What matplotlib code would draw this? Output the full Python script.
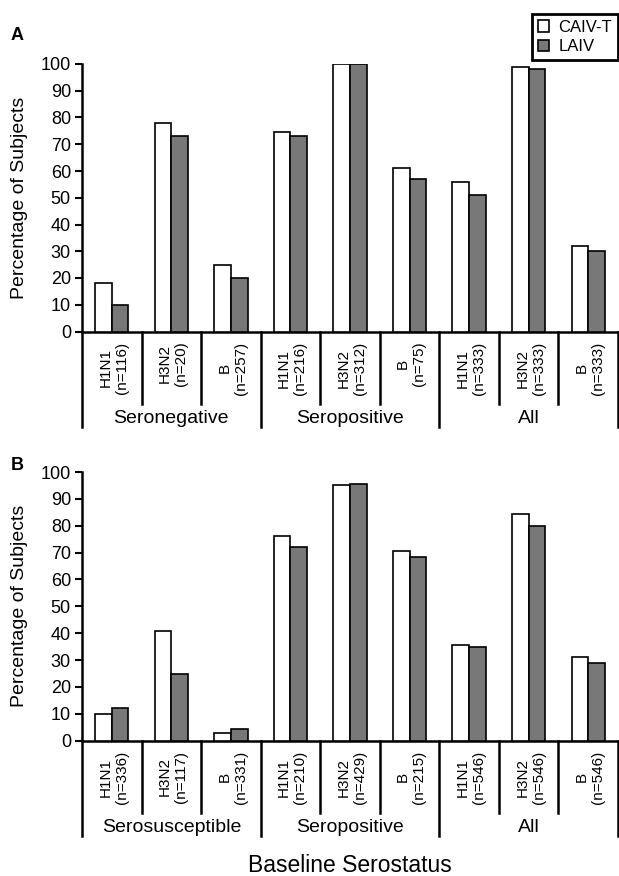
import numpy as np
import matplotlib
matplotlib.use('Agg')
import matplotlib.pyplot as plt

plt.rcParams['font.family'] = ['Liberation Sans', 'DejaVu Sans']

strains = ['H1N1', 'H3N2', 'B']
groups_a = ['Seronegative', 'Seropositive', 'All']
groups_b = ['Serosusceptible', 'Seropositive', 'All']
n_a = [116, 20, 257, 216, 312, 75, 333, 333, 333]
n_b = [336, 117, 331, 210, 429, 215, 546, 546, 546]

caiv_a = [18, 78, 25, 74.5, 100, 61, 56, 99, 32]
laiv_a = [10, 73, 20, 73, 100, 57, 51, 98, 30]
caiv_b = [10, 41, 3, 76, 95, 70.5, 35.5, 84.5, 31]
laiv_b = [12, 25, 4.5, 72, 95.5, 68.5, 35, 80, 29]

W, H = 619, 876
fig = plt.figure(figsize=(W/100, H/100), dpi=100)

# axes placed in pixel terms: (left, top of 100, bottom at 0)
ax_a = fig.add_axes([82/W, (H-331.5)/H, 536/W, 267.5/H])
ax_b = fig.add_axes([82/W, (H-740.7)/H, 536/W, 268.7/H])

bw = 0.28
gray = '#787878'

def draw(ax, caiv, laiv, groups, ns):
	x = np.arange(len(caiv)) + 0.5
	b1 = ax.bar(x - bw/2, caiv, bw, color='white', edgecolor='black', linewidth=1.2, zorder=3)
	b2 = ax.bar(x + bw/2, laiv, bw, color=gray, edgecolor='black', linewidth=1.2, zorder=3)
	ax.set_xlim(0, 9)
	ax.set_ylim(0, 100)
	ax.set_yticks(range(0, 101, 10))
	ax.tick_params(axis='y', length=5, width=1.5, pad=3, labelsize=13, direction='out')
	ax.set_xticks([])
	ax.spines['top'].set_visible(False)
	ax.spines['right'].set_visible(False)
	ax.spines['left'].set_linewidth(1.8)
	ax.spines['bottom'].set_linewidth(1.8)
	ax.patch.set_alpha(0)

	hpx = ax.get_position().height * H
	inner = 72 / hpx
	outer = 95 / hpx
	tr = ax.get_xaxis_transform()
	for i in range(10):
		d = outer if i % 3 == 0 else inner
		ax.plot([i, i], [0, -d], color='black', lw=1.8, transform=tr, clip_on=False)

	for i in range(9):
		lab = strains[i % 3] + '\n(n=' + str(ns[i]) + ')'
		ax.text(x[i] + 0.03, -10/hpx, lab, transform=tr, rotation=90, ha='center', va='top',
			multialignment='center', fontsize=11, linespacing=1.2)

	for g in range(3):
		ax.text(3*g + 1.5, -87/hpx, groups[g], transform=tr, ha='center', va='center', fontsize=14)

	ax.set_ylabel('Percentage of Subjects', fontsize=14)
	ax.yaxis.set_label_coords(-54/536, 0.5)
	return b1, b2

b1, b2 = draw(ax_a, caiv_a, laiv_a, groups_a, n_a)
draw(ax_b, caiv_b, laiv_b, groups_b, n_b)

fig.text(17/W, (H-35)/H, 'A', fontsize=13, fontweight='bold', ha='center', va='center')
fig.text(17/W, (H-466)/H, 'B', fontsize=13, fontweight='bold', ha='center', va='center')
fig.text(350/W, (H-866)/H, 'Baseline Serostatus', fontsize=16.5, ha='center', va='center')

leg = fig.legend([b1, b2], ['CAIV-T', 'LAIV'], loc='upper right', bbox_to_anchor=(618/W, (H-14)/H),
	borderaxespad=0, fontsize=12, handlelength=0.65, handleheight=0.65, handletextpad=0.6,
	labelspacing=0.25, borderpad=0.35, fancybox=False, framealpha=1)
leg.get_frame().set_edgecolor('black')
leg.get_frame().set_linewidth(2)

plt.savefig('out.png', dpi=100)
